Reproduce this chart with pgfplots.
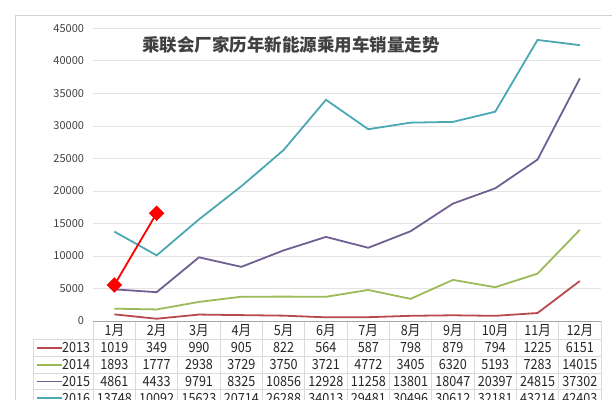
\documentclass[border=0pt]{standalone}
\usepackage{pgfplots}
\pgfplotsset{compat=1.18}
\usepackage{fontspec}
\setmainfont{Noto Sans CJK SC}
\newfontfamily\tabfont[FakeStretch=0.9]{Noto Sans CJK SC}
\definecolor{c13}{HTML}{B84A4E}
\definecolor{c14}{HTML}{9BBB59}
\definecolor{c15}{HTML}{6F5F93}
\definecolor{c16}{HTML}{4AA8B4}
\definecolor{gridc}{HTML}{E3E3E3}
\definecolor{tabc}{HTML}{DADADA}
\begin{document}
\begin{tikzpicture}[x=1pt,y=1pt]
\begin{axis}[
  at={(0,0)}, anchor=south west,
  scale only axis, width=507.8pt, height=292.7pt,
  xmin=0.5, xmax=12.5, ymin=0, ymax=45000,
  xtick=\empty, ytick={0,5000,...,45000},
  ymajorgrids, grid style={gridc, line width=0.7pt},
  axis line style={draw=none}, major tick length=0pt,
  yticklabel style={font=\fontsize{11}{11}\selectfont, text=black!75, inner sep=0pt, xshift=-9pt},
  scaled y ticks=false,
  /pgf/number format/assume math mode=true,
  /pgf/number format/set thousands separator={},
  clip=false,
]
\addplot[c13, line width=1.8pt] coordinates {(1,1019)(2,349)(3,990)(4,905)(5,822)(6,564)(7,587)(8,798)(9,879)(10,794)(11,1225)(12,6151)};
\addplot[c14, line width=1.8pt] coordinates {(1,1893)(2,1777)(3,2938)(4,3729)(5,3750)(6,3721)(7,4772)(8,3405)(9,6320)(10,5193)(11,7283)(12,14015)};
\addplot[c15, line width=1.8pt] coordinates {(1,4861)(2,4433)(3,9791)(4,8325)(5,10856)(6,12928)(7,11258)(8,13801)(9,18047)(10,20397)(11,24815)(12,37302)};
\addplot[c16, line width=1.8pt] coordinates {(1,13748)(2,10092)(3,15623)(4,20714)(5,26288)(6,34013)(7,29481)(8,30496)(9,30612)(10,32181)(11,43214)(12,42403)};
\addplot[red, line width=1.8pt, mark=square*, mark size=4.6pt, mark options={rotate=45}] coordinates {(1,5540)(2,16570)};
\end{axis}
% title
\node[font=\fontsize{17.5}{17.5}\selectfont\bfseries, text=black!75] at (197.8,276) {乘联会厂家历年新能源乘用车销量走势};
% frame
\draw[black!18, line width=0.8pt] (-78.2,-80) -- (-78.2,305.5) -- (520,305.5);
% table lines
\foreach \k in {0,...,12} \draw[tabc, line width=0.7pt] ({\k*42.32},0) -- ({\k*42.32},-90);
\draw[tabc, line width=0.7pt] (-60,-18.6) -- (-60,-90);
\foreach \yy in {-18.6,-35.3,-52,-68.7,-85.4} \draw[tabc, line width=0.7pt] (-60,\yy) -- (507.8,\yy);
\draw[black!35, line width=0.8pt] (0,0) -- (507.8,0);
% header
\foreach \m [count=\i] in {1,...,12}
  \node[font=\tabfont\fontsize{14}{14}\selectfont, text=black!85] at ({(\i-0.5)*42.32},-9.7) {\m 月};
% legend column
\foreach \c/\yr/\yy in {c13/2013/-27.0, c14/2014/-43.7, c15/2015/-60.4, c16/2016/-77.1} {
  \draw[\c, line width=1.8pt] (-56.5,\yy) -- (-31.5,\yy);
  \node[font=\tabfont\fontsize{14}{14}\selectfont, text=black!85, anchor=east, inner sep=0pt] at (-3,\yy) {\yr};
}
% data rows
\foreach \v [count=\i] in {1019,349,990,905,822,564,587,798,879,794,1225,6151}
  \node[font=\tabfont\fontsize{14}{14}\selectfont, text=black!85] at ({(\i-0.5)*42.32},-27.0) {\v};
\foreach \v [count=\i] in {1893,1777,2938,3729,3750,3721,4772,3405,6320,5193,7283,14015}
  \node[font=\tabfont\fontsize{14}{14}\selectfont, text=black!85] at ({(\i-0.5)*42.32},-43.7) {\v};
\foreach \v [count=\i] in {4861,4433,9791,8325,10856,12928,11258,13801,18047,20397,24815,37302}
  \node[font=\tabfont\fontsize{14}{14}\selectfont, text=black!85] at ({(\i-0.5)*42.32},-60.4) {\v};
\foreach \v [count=\i] in {13748,10092,15623,20714,26288,34013,29481,30496,30612,32181,43214,42403}
  \node[font=\tabfont\fontsize{14}{14}\selectfont, text=black!85] at ({(\i-0.5)*42.32},-77.1) {\v};
\pgfresetboundingbox
\useasboundingbox (-93.2,-78) rectangle (518.8,321);
\end{tikzpicture}
\end{document}
